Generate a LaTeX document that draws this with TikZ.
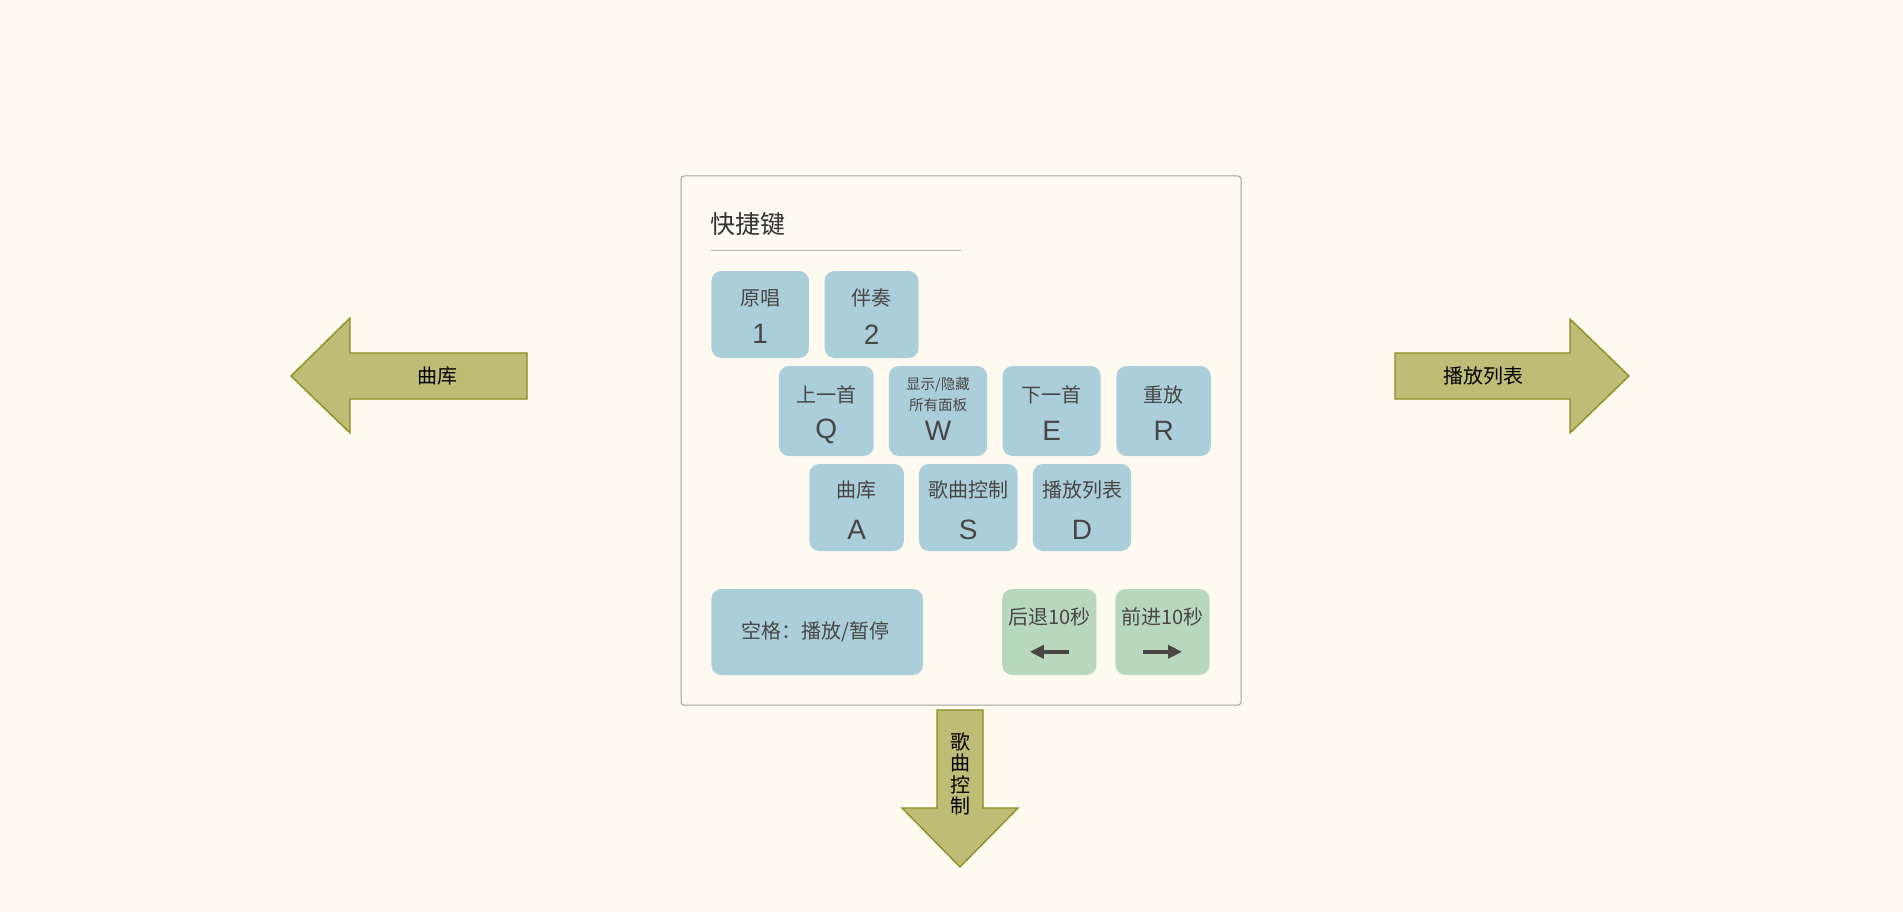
\documentclass[tikz,border=0pt]{standalone}
\usepackage{fontspec}
\setmainfont{Liberation Sans}
\newfontfamily\cjk{Noto Sans CJK SC}
\usetikzlibrary{calc,arrows.meta}
\definecolor{bgc}{HTML}{FEFAEF}
\definecolor{keyblue}{HTML}{AACFDA}
\definecolor{keygreen}{HTML}{B8D8BE}
\definecolor{arrowfill}{HTML}{BFBC76}
\definecolor{arrowline}{HTML}{8A8A1E}
\definecolor{txt}{HTML}{4A4545}
\definecolor{paneline}{HTML}{A0A0A0}
\tikzset{
  keyb/.style={fill=keyblue, rounded corners=10pt, draw=none, inner sep=0pt},
  keyg/.style={fill=keygreen, rounded corners=10pt, draw=none, inner sep=0pt},
  lab/.style={font=\cjk\fontsize{20}{20}\selectfont, text=txt, inner sep=0pt},
  small/.style={font=\cjk\fontsize{14.5}{14.5}\selectfont, text=txt, inner sep=0pt},
  letter/.style={font=\fontsize{28}{28}\selectfont, text=txt, inner sep=0pt},
  bigarrow/.style={fill=arrowfill, draw=arrowline, line width=1.3pt, line join=miter},
  arrowlab/.style={font=\cjk\fontsize{20}{20}\selectfont, text=black, inner sep=0pt},
  keyarrow/.style={draw=txt, line width=4pt, -{Triangle[length=14pt,width=13pt]}},
  panel/.style={draw=paneline, line width=1pt, rounded corners=3pt, inner sep=0pt},
}
\begin{document}
\begin{tikzpicture}[x=1pt,y=-1pt]
\useasboundingbox (0,0) rectangle (1903,912);
\fill[bgc] (0,0) rectangle (1903,912);

% panel
\node[panel, minimum width=560pt, minimum height=529pt] (panel) at (961,440.5) {};
\node[font=\cjk\fontsize{25}{25}\selectfont, text=black!80, anchor=west, inner sep=0pt] (title) at (710,224.5) {快捷键};
\coordinate (ul1) at (711,250);
\coordinate (ul2) at (961,250);
\draw[paneline!80, line width=1pt] (ul1) -- (ul2);

% row 1
\node[keyb, minimum width=97.5pt, minimum height=87pt] (k1) at (760.2,314.5) {};
\node[keyb, minimum width=94pt, minimum height=87pt] (k2) at (871.6,314.5) {};
% row 2
\node[keyb, minimum width=94.7pt, minimum height=90pt] (kQ) at (826.3,411) {};
\node[keyb, minimum width=98.2pt, minimum height=90pt] (kW) at (938,411) {};
\node[keyb, minimum width=98.2pt, minimum height=90pt] (kE) at (1051.6,411) {};
\node[keyb, minimum width=94.3pt, minimum height=90pt] (kR) at (1163.6,411) {};
% row 3
\node[keyb, minimum width=94.6pt, minimum height=87pt] (kA) at (856.6,507.5) {};
\node[keyb, minimum width=98.6pt, minimum height=87pt] (kS) at (968.2,507.5) {};
\node[keyb, minimum width=98.2pt, minimum height=87pt] (kD) at (1082,507.5) {};
% bottom
\node[keyb, minimum width=211.5pt, minimum height=86pt] (kSpace) at (817.2,632) {};
\node[keyg, minimum width=94.3pt, minimum height=86pt] (kBack) at (1049.3,632) {};
\node[keyg, minimum width=94.2pt, minimum height=86pt] (kFwd) at (1162.5,632) {};

% labels
\node[lab] (t1) at ($(k1.north)+(0,27)$) {原唱};
\node[letter] (l1) at ($(k1.north)+(0,63.5)$) {1};
\node[lab] (t2) at ($(k2.north)+(0,27)$) {伴奏};
\node[letter] (l2) at ($(k2.north)+(0,63.5)$) {2};

\node[lab] (tQ) at ($(kQ.north)+(0,29)$) {上一首};
\node[letter] (lQ) at ($(kQ.north)+(0,65.5)$) {Q};
\node[small] (tW1) at ($(kW.north)+(0,19)$) {显示/隐藏};
\node[small] (tW2) at ($(kW.north)+(0,39)$) {所有面板};
\node[letter] (lW) at ($(kW.north)+(0,65.5)$) {W};
\node[lab] (tE) at ($(kE.north)+(0,29)$) {下一首};
\node[letter] (lE) at ($(kE.north)+(0,65.5)$) {E};
\node[lab] (tR) at ($(kR.north)+(0,29)$) {重放};
\node[letter] (lR) at ($(kR.north)+(0,65.5)$) {R};

\node[lab] (tA) at ($(kA.north)+(0,26)$) {曲库};
\node[letter] (lA) at ($(kA.north)+(0,66)$) {A};
\node[lab] (tS) at ($(kS.north)+(0,26)$) {歌曲控制};
\node[letter] (lS) at ($(kS.north)+(0,66)$) {S};
\node[lab] (tD) at ($(kD.north)+(0,26)$) {播放列表};
\node[letter] (lD) at ($(kD.north)+(0,66)$) {D};

\node[lab] (tSpace) at ($(kSpace.center)+(-2,0)$) {空格：播放/暂停};
\node[lab] (tBack) at ($(kBack.north)+(0,28)$) {后退10秒};
\node[lab] (tFwd) at ($(kFwd.north)+(0,28)$) {前进10秒};
\coordinate (ba1) at ($(kBack.north)+(19.5,63)$);
\coordinate (ba2) at ($(kBack.north)+(-19.5,63)$);
\coordinate (fa1) at ($(kFwd.north)+(-19.5,63)$);
\coordinate (fa2) at ($(kFwd.north)+(19.5,63)$);
\draw[keyarrow] (ba1) -- (ba2);
\draw[keyarrow] (fa1) -- (fa2);

% big arrows
\draw[bigarrow] (291,376) -- (350,318) -- (350,353) -- (527,353) -- (527,399) -- (350,399) -- (350,433) -- cycle;
\node[arrowlab] (aleft) at (437,376) {曲库};

\draw[bigarrow] (1395,353) -- (1570,353) -- (1570,319) -- (1629,376) -- (1570,433) -- (1570,399) -- (1395,399) -- cycle;
\node[arrowlab] (aright) at (1483,376) {播放列表};

\draw[bigarrow] (937,710) -- (983,710) -- (983,808) -- (1018,808) -- (960,867) -- (902,808) -- (937,808) -- cycle;
\node[arrowlab, align=center, font=\cjk\fontsize{20}{21.3}\selectfont] (adown) at (960,774) {歌\\曲\\控\\制};
\end{tikzpicture}
\end{document}
